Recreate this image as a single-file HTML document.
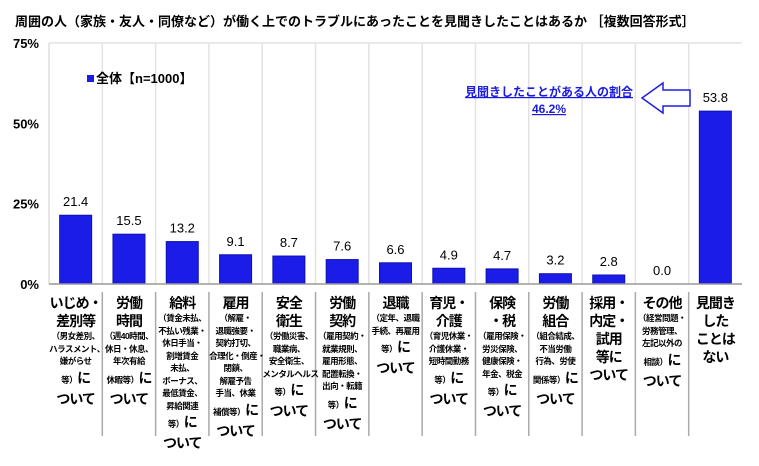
<!DOCTYPE html>
<html><head><meta charset="utf-8">
<style>
body{margin:0;background:#fff;font-family:"Liberation Sans","Noto Sans CJK JP",sans-serif;}
#wrap{position:relative;width:759px;height:466px;overflow:hidden;}
.lab{position:absolute;top:294px;width:53px;text-align:center;font-weight:bold;color:#000;}
.lab .b{font-size:14px;line-height:18px;white-space:nowrap;letter-spacing:-1px;}
.lab .s{font-size:8.5px;line-height:12.5px;white-space:nowrap;letter-spacing:-0.5px;}
.lab .m{font-size:14px;line-height:20px;white-space:nowrap;letter-spacing:-1px;}
.lab .m small{font-size:8.5px;letter-spacing:-0.5px;}
</style></head><body>
<div id="wrap">
<div style="position:absolute;left:15px;top:11px;font-size:13px;font-weight:bold;white-space:nowrap;">周囲の人（家族・友人・同僚など）が働く上でのトラブルにあったことを見聞きしたことはあるか ［複数回答形式］</div>
<svg id="svg" width="759" height="466" style="position:absolute;left:0;top:0"></svg>
<div id="labels"></div>
</div>
<script>
const categories=["いじめ・差別等","労働時間","給料","雇用","安全衛生","労働契約","退職","育児・介護","保険・税","労働組合","採用・内定・試用等","その他","見聞きしたことはない"];
const values=[21.4,15.5,13.2,9.1,8.7,7.6,6.6,4.9,4.7,3.2,2.8,0.0,53.8];
const yTicks=[0,25,50,75];
const catLabels=[
 [["b","いじめ・"],["b","差別等"],["s","（男女差別、"],["s","ハラスメント、"],["s","嫌がらせ"],["m","<small>等）</small>に"],["b","ついて"]],
 [["b","労働"],["b","時間"],["s","（週40時間、"],["s","休日・休息、"],["s","年次有給"],["m","<small>休暇等）</small>に"],["b","ついて"]],
 [["b","給料"],["s","（賃金未払、"],["s","不払い残業・"],["s","休日手当・"],["s","割増賃金"],["s","未払、"],["s","ボーナス、"],["s","最低賃金、"],["s","昇給関連"],["m","<small>等）</small>に"],["b","ついて"]],
 [["b","雇用"],["s","（解雇・"],["s","退職強要・"],["s","契約打切、"],["s","合理化・倒産・"],["s","閉鎖、"],["s","解雇予告"],["s","手当、休業"],["m","<small>補償等）</small>に"],["b","ついて"]],
 [["b","安全"],["b","衛生"],["s","（労働災害、"],["s","職業病、"],["s","安全衛生、"],["s","メンタルヘルス"],["m","<small>等）</small>に"],["b","ついて"]],
 [["b","労働"],["b","契約"],["s","（雇用契約・"],["s","就業規則、"],["s","雇用形態、"],["s","配置転換・"],["s","出向・転籍"],["m","<small>等）</small>に"],["b","ついて"]],
 [["b","退職"],["s","（定年、退職"],["s","手続、再雇用"],["m","<small>等）</small>に"],["b","ついて"]],
 [["b","育児・"],["b","介護"],["s","（育児休業・"],["s","介護休業・"],["s","短時間勤務"],["m","<small>等）</small>に"],["b","ついて"]],
 [["b","保険"],["b","・税"],["s","（雇用保険・"],["s","労災保険、"],["s","健康保険・"],["s","年金、税金"],["m","<small>等）</small>に"],["b","ついて"]],
 [["b","労働"],["b","組合"],["s","（組合結成、"],["s","不当労働"],["s","行為、労使"],["m","<small>関係等）</small>に"],["b","ついて"]],
 [["b","採用・"],["b","内定・"],["b","試用"],["b","等に"],["b","ついて"]],
 [["b","その他"],["s","（経営問題・"],["s","労務管理、"],["s","左記以外の"],["m","<small>相談）</small>に"],["b","ついて"]],
 [["b","見聞き"],["b","した"],["b","ことは"],["b","ない"]]
];
const NS="http://www.w3.org/2000/svg";
const svg=document.getElementById('svg');
const L=49,R=742,Y0=284,Y75=43,n=categories.length,step=(R-L)/n;
const y=v=>Y0-(v/75)*(Y0-Y75);
const xc=i=>L+step*(i+0.5);
function mk(t,a){const e=document.createElementNS(NS,t);for(const k in a)e.setAttribute(k,a[k]);svg.appendChild(e);return e;}
for(let i=1;i<n;i++){
 const g=mk('line',{x1:L+step*i,x2:L+step*i,y1:Y75,y2:Y0,stroke:'#e2e2e2','stroke-width':1.5});
 
 
 const d=mk('line',{x1:L+step*i,x2:L+step*i,y1:292,y2:436,stroke:'#aaa','stroke-width':1.5});
 
 
}
const tl=mk('line',{x1:L,x2:R,y1:Y75,y2:Y75,stroke:'#e2e2e2','stroke-width':1.5});


const la=mk('line',{x1:L,x2:L,y1:Y75,y2:Y0,stroke:'#ddd','stroke-width':1.5});


yTicks.forEach(t=>{
 const tx=mk('text',{x:39,y:y(t)+5,'text-anchor':'end','font-size':13,'font-weight':'bold','font-family':'Liberation Sans, sans-serif'});
 tx.textContent=t+'%';
 
 
});
values.forEach((v,i)=>{
 const b=mk('rect',{x:xc(i)-16,y:y(v),width:32,height:Y0-y(v),fill:'#1c1ce8',stroke:'#1010b0','stroke-width':1});
 
 
 const t=mk('text',{x:xc(i),y:y(v)-9,'text-anchor':'middle','font-size':13,'font-family':'Liberation Sans, sans-serif'});
 t.textContent=v.toFixed(1);
 
 
});
const ax=mk('line',{x1:L,x2:R,y1:Y0,y2:Y0,stroke:'#999','stroke-width':1.5});


const lg=mk('rect',{x:87,y:75,width:7,height:7,fill:'#1c1ce8'});


const lt=mk('text',{x:96,y:83,'font-size':13,'font-weight':'bold','font-family':'Liberation Sans, Noto Sans CJK JP, sans-serif'});
lt.textContent='全体【n=1000】';


const ar=mk('path',{d:'M690,90 L663,90 L663,83 L642,98 L663,113 L663,106 L690,106 Z',fill:'#fff',stroke:'#2020e0','stroke-width':1.5});


[['見聞きしたことがある人の割合',96],['46.2%',113]].forEach(([s,yy])=>{
 const t=mk('text',{x:549,y:yy,'text-anchor':'middle','font-size':12,'font-weight':'bold',fill:'#1a1ae0','text-decoration':'underline','font-family':'Liberation Sans, Noto Sans CJK JP, sans-serif'});
 t.textContent=s;
 
 
});
const lc=document.getElementById('labels');
catLabels.forEach((lines,i)=>{
 const d=document.createElement('div');
 d.className='lab';
 d.style.left=(xc(i)-26.5)+'px';
 
 
 lines.forEach(([c,t])=>{const s=document.createElement('div');s.className=c;s.innerHTML=t;d.appendChild(s);});
 lc.appendChild(d);
});
</script>
</body></html>
